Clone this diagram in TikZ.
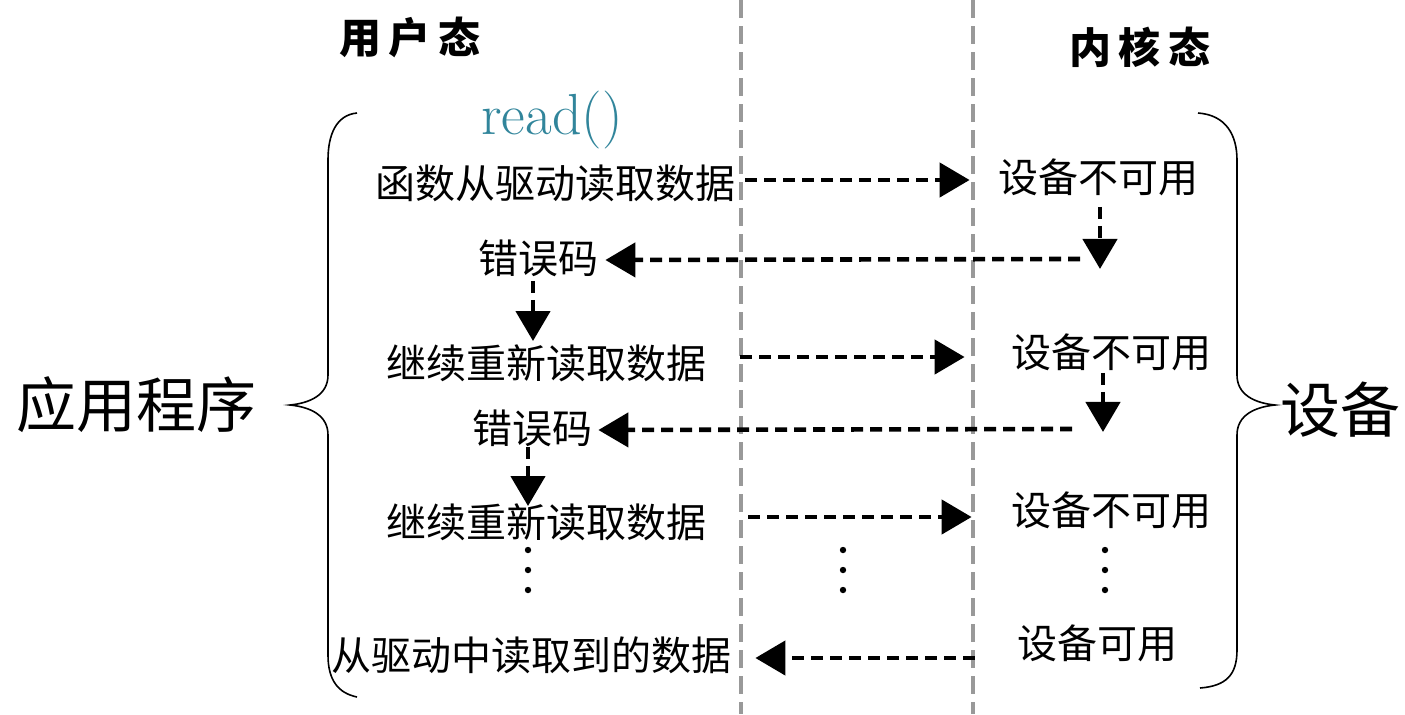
\documentclass[tikz,border=0pt]{standalone}
\usepackage{fontspec}
\newfontfamily\cjk{Noto Sans CJK SC}
\usetikzlibrary{arrows.meta,calc}
\definecolor{tealread}{RGB}{49,133,155}
\definecolor{sepgray}{RGB}{153,153,153}
\tikzset{
  txt/.style={font=\cjk\fontsize{20pt}{24pt}\selectfont, inner sep=0pt},
  big/.style={font=\cjk\fontsize{30pt}{36pt}\selectfont, inner sep=0pt},
  ttl/.style={font=\cjk\bfseries\fontsize{21pt}{26pt}\selectfont, inner sep=0pt},
  arr/.style={line width=2.3pt, dash pattern=on 6pt off 3.5pt, -{Triangle[length=15pt,width=17pt]}},
  bracestroke/.style={line width=0.8pt},
  sepline/.style={sepgray, line width=1.7pt, dash pattern=on 9pt off 4pt},
  dotnode/.style={circle, fill, inner sep=0pt, minimum size=3.2pt},
}
\begin{document}
\begin{tikzpicture}[x=0.5pt,y=-0.5pt]
\useasboundingbox (0,0) rectangle (1405,714);
% separators
\draw[sepline] (741,0) -- (741,714);
\draw[sepline] (973,0) -- (973,714);
% titles
\node[ttl] (t1) at (410,37) {用\hspace{4pt}户\hspace{4pt}态};
\node[ttl] (t2) at (1140,47) {内\hspace{4pt}核\hspace{4pt}态};
\node[inner sep=0pt, text=tealread, font=\fontsize{29pt}{33pt}\selectfont] (rd) at (552,120) {read()};
% big labels
\node[big] (app) at (137,405) {应用程序};
\node[big] (dev) at (1340,410) {设备};
% braces
\draw[bracestroke] (357,113) .. controls (336,115) and (328,135) .. (328,160) -- (328,375)
  .. controls (328,395) and (310,403) .. (290,405) .. controls (310,407) and (328,415) .. (328,435)
  -- (328,655) .. controls (328,680) and (338,693) .. (357,697);
\draw[bracestroke] (1198,113) .. controls (1226,115) and (1237,135) .. (1237,160) -- (1237,375)
  .. controls (1237,395) and (1255,403) .. (1275,405) .. controls (1255,407) and (1237,415) .. (1237,435)
  -- (1237,650) .. controls (1237,675) and (1226,686) .. (1200,688);
% texts
\node[txt] (r1) at (555,183) {函数从驱动读取数据};
\node[txt] (d1) at (1098,177) {设备不可用};
\node[txt] (e1) at (538,258) {错误码};
\node[txt] (c1) at (546,363) {继续重新读取数据};
\node[txt] (d2) at (1111,352) {设备不可用};
\node[txt] (e2) at (532,428) {错误码};
\node[txt] (c2) at (546,522) {继续重新读取数据};
\node[txt] (d3) at (1111,510) {设备不可用};
\node[txt] (f) at (531,655) {从驱动中读取到的数据};
\node[txt] (g) at (1097,643) {设备可用};
% dots
\foreach \i/\yy in {1/550,2/570,3/590}{
  \node[dotnode] (dl\i) at (528,\yy) {};
  \node[dotnode] (dm\i) at (843,\yy) {};
  \node[dotnode] (dr\i) at (1105,\yy) {};
}
% arrows
\draw[arr] ($(r1.east)+(10,-3)$) -- ($(d1.west)+(-28,3)$);
\draw[arr] ($(d1.south)+(2,11)$) -- ($(d1.south)+(2,73)$);
\draw[arr] ($(d1.south)+(-18,63)$) -- ($(e1.east)+(7,2)$);
\draw[arr] ($(e1.south)+(-5,4)$) -- ($(c1.north)+(-13,-3)$);
\draw[arr] ($(c1.east)+(34,-6)$) -- ($(d2.west)+(-46,5)$);
\draw[arr] ($(d2.south)+(-8,2)$) -- ($(d2.south)+(-8,61)$);
\draw[arr] ($(d2.south)+(-39,58)$) -- ($(e2.east)+(6,2)$);
\draw[arr] ($(e2.south)+(-4,0)$) -- ($(c2.north)+(-18,3)$);
\draw[arr] ($(c2.east)+(42,-5)$) -- ($(d3.west)+(-39,7)$);
\draw[arr] ($(g.west)+(-42,15)$) -- ($(f.east)+(24,3)$);
\end{tikzpicture}
\end{document}
